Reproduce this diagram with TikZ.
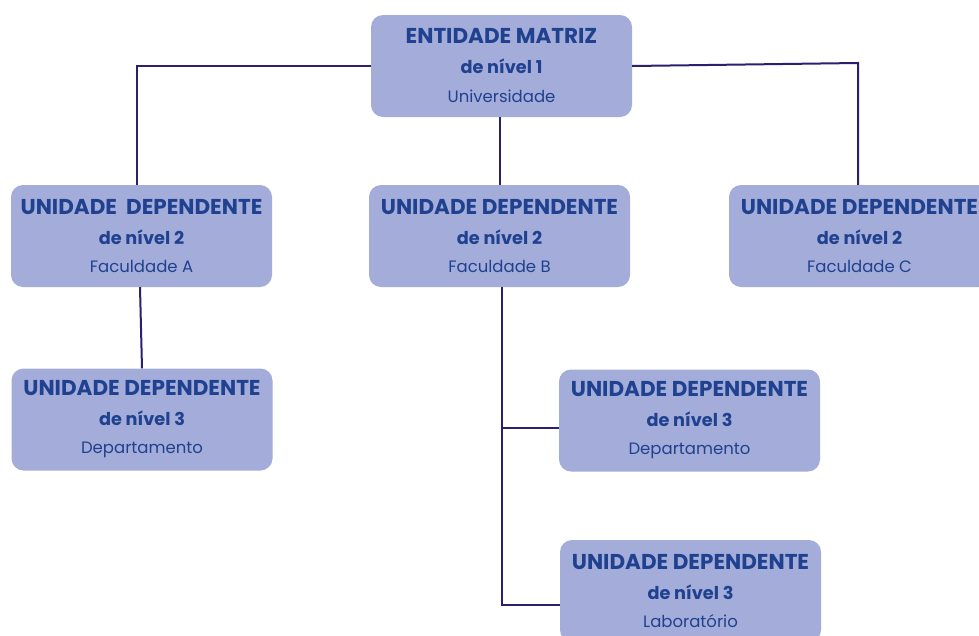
\documentclass[tikz,border=0pt]{standalone}
\usepackage{fontspec}
\setmainfont{Poppins}
\definecolor{boxfill}{HTML}{A4ADD9}
\definecolor{txt}{HTML}{1F418F}
\definecolor{wire}{HTML}{29216E}
\tikzset{
  unitbox/.style={fill=boxfill, rounded corners=12pt, minimum width=261pt, minimum height=102pt,
    inner sep=0pt, align=center, text=txt, font=\fontsize{21.5}{30}\selectfont\bfseries},
  link/.style={draw=wire, line width=2pt}
}
\newcommand{\mymid}{\fontsize{17.7}{30}\selectfont}
\newcommand{\mysmall}{\fontsize{16.5}{29}\selectfont\mdseries}
\begin{document}
\begin{tikzpicture}[x=1pt,y=-1pt]
\fill[white] (0,0) rectangle (979,635);
\useasboundingbox (0,0) rectangle (979,635);
\node[unitbox] (topbox) at (501.5,66) {ENTIDADE MATRIZ\\ \mymid de nível 1\\[-1pt] \mysmall Universidade};
\node[unitbox] (fa) at (141.5,236) {UNIDADE\ \ DEPENDENTE\\ \mymid de nível 2\\[-2pt] \mysmall Faculdade A};
\node[unitbox] (fb) at (499.5,236) {UNIDADE DEPENDENTE\\ \mymid de nível 2\\[-2pt] \mysmall Faculdade B};
\node[unitbox] (fc) at (859.5,236) {UNIDADE DEPENDENTE\\ \mymid de nível 2\\[-2pt] \mysmall Faculdade C};
\node[unitbox] (da) at (142,419.5) {UNIDADE DEPENDENTE\\ \mymid de nível 3\\[-2pt] \mysmall Departamento};
\node[unitbox] (db) at (689.5,420.5) {UNIDADE DEPENDENTE\\ \mymid de nível 3\\[-2pt] \mysmall Departamento};
\node[unitbox] (lb) at (690.5,591) {UNIDADE DEPENDENTE\\ \mymid de nível 3\\[-2pt] \mysmall Laboratório};
\coordinate (tl) at (137,66);
\coordinate (tr) at (858,63);
\coordinate (bt) at (502,605);
\coordinate (bm) at (502,428);
\draw[link] (topbox.west) -- (tl) -- (tl |- fa.north);
\draw[link] (topbox.east) -- (tr) -- (tr |- fc.north);
\draw[link] (topbox.south -| 500,0) -- (fb.north -| 500,0);
\draw[link] (fa.south -| 140,0) -- (da.north -| 142,0);
\draw[link] (fb.south -| 502,0) -- (bt) -- (bt -| lb.west);
\draw[link] (bm) -- (bm -| db.west);
\end{tikzpicture}
\end{document}
